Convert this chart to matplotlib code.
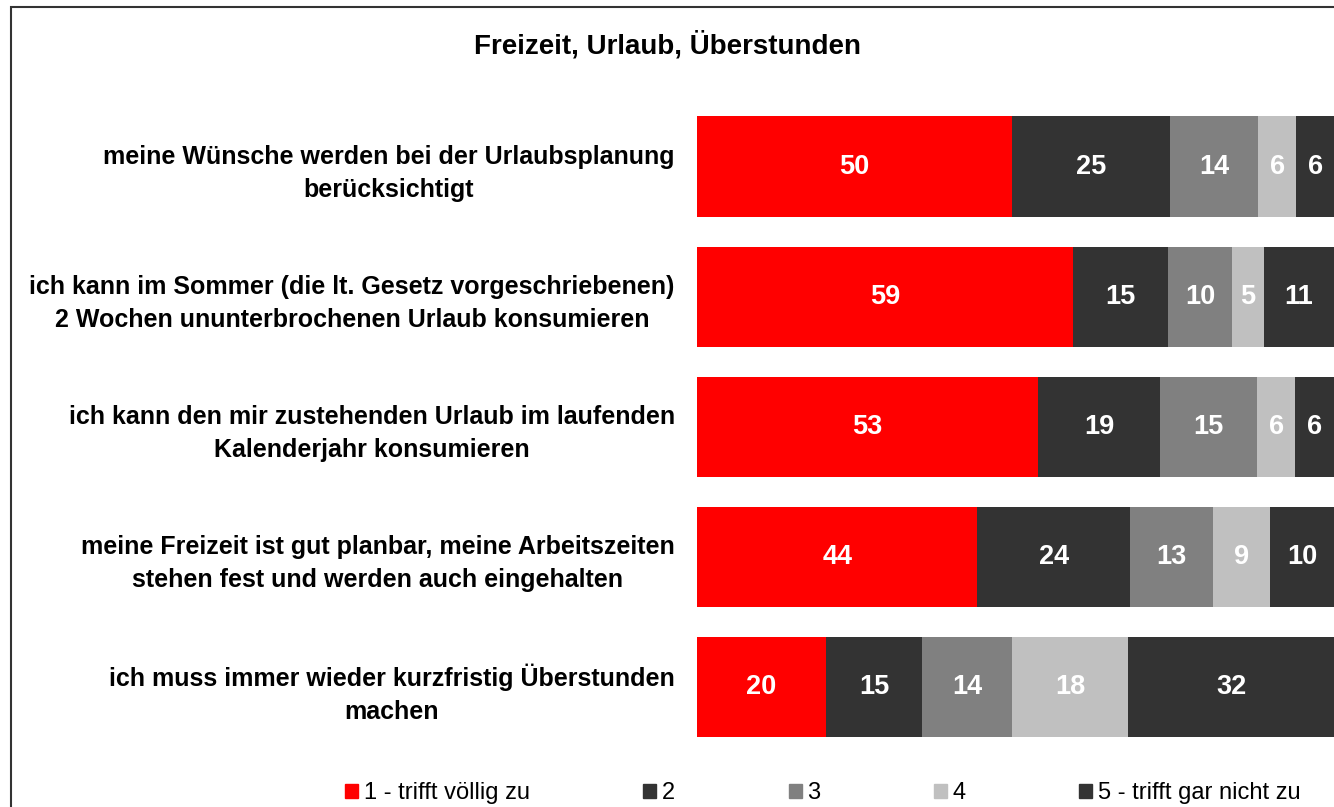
import matplotlib.pyplot as plt
import matplotlib.patches as mpatches
import numpy as np

plt.rcParams['font.family'] = ['Liberation Sans', 'DejaVu Sans']

categories = [
    "meine Wünsche werden bei der Urlaubsplanung\nberücksichtigt",
    "ich kann im Sommer (die lt. Gesetz vorgeschriebenen)\n2 Wochen ununterbrochenen Urlaub konsumieren",
    "ich kann den mir zustehenden Urlaub im laufenden\nKalenderjahr konsumieren",
    "meine Freizeit ist gut planbar, meine Arbeitszeiten\nstehen fest und werden auch eingehalten",
    "ich muss immer wieder kurzfristig Überstunden\nmachen",
]
series_names = ["1 - trifft völlig zu", "2", "3", "4", "5 - trifft gar nicht zu"]
values = [
    [50, 59, 53, 44, 20],
    [25, 15, 19, 24, 15],
    [14, 10, 15, 13, 14],
    [6, 5, 6, 9, 18],
    [6, 11, 6, 10, 32],
]
colors = ["#ff0000", "#333333", "#808080", "#c0c0c0", "#333333"]

# 100% stacked: each row scaled to its total
data = np.array(values, dtype=float)
shares = data / data.sum(axis=0) * 100

W, H = 1334, 807
fig = plt.figure(figsize=(W / 100, H / 100), dpi=100)
ax = fig.add_axes([697 / W, 1 - 752 / H, 1 - 697 / W, (752 - 101.5) / H])

y = np.arange(len(categories))
left = np.zeros(len(categories))
for name, vals, raw, col in zip(series_names, shares, data, colors):
    bars = ax.barh(y, vals, left=left, height=0.77, color=col, label=name)
    ax.bar_label(bars, labels=[str(int(v)) for v in raw], label_type='center',
                 color='white', fontweight='bold', fontsize=19.5)
    left += vals

ax.set_xlim(0, 100)
ax.set_ylim(len(categories) - 0.5, -0.5)
ax.set_yticks(y)
ax.set_yticklabels(categories, fontweight='bold', fontsize=18,
                   multialignment='center', linespacing=1.45)
ax.tick_params(axis='y', length=0, pad=16)
ax.set_xticks([])
for s in ax.spines.values():
    s.set_visible(False)

fig.text(0.5, 1 - 45 / H, "Freizeit, Urlaub, Überstunden", ha='center', va='center',
         fontweight='bold', fontsize=20)

handles = [mpatches.Patch(color=c) for c in colors]
fig.legend(handles, series_names, loc='center', bbox_to_anchor=(823 / W, 1 - 793 / H),
           ncol=5, frameon=False, fontsize=17, handlelength=0.55, handleheight=0.55,
           handletextpad=0.25, columnspacing=4.8)

border = mpatches.Rectangle((11 / W, -0.05), 1.1, 1 - 7 / H + 0.05, transform=fig.transFigure,
                            fill=False, edgecolor='#333333', linewidth=1.5)
fig.patches.append(border)

fig.savefig("out.png", dpi=100)
